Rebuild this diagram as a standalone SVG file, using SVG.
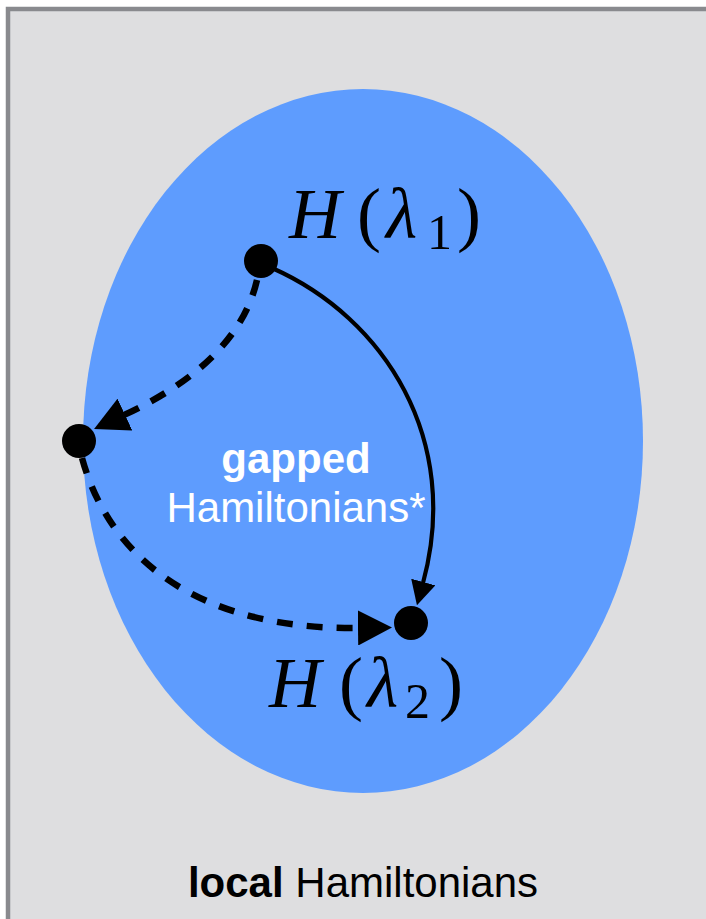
<svg xmlns="http://www.w3.org/2000/svg" width="706" height="919" viewBox="0 0 706 919">
<style>
.math{font-family:"Liberation Serif","DejaVu Serif",serif;fill:#000}
.it{font-style:italic}
.lbl{font-family:"Liberation Sans",Arial,sans-serif;font-size:42px}
.b{font-weight:bold}
.dash{fill:none;stroke:#000;stroke-width:6.5;stroke-dasharray:16 14}
.solid{fill:none;stroke:#000;stroke-width:4.2}
.dot{fill:#000}
</style>
<defs>
<marker id="ah" viewBox="0 0 24 25" refX="1" refY="12.5" markerWidth="24" markerHeight="25" markerUnits="userSpaceOnUse" orient="auto">
<path d="M0,0 L24,12.5 L0,25 z" fill="#000"/>
</marker>
<marker id="ahd" viewBox="0 0 34 35" refX="1" refY="17.5" markerWidth="34" markerHeight="35" markerUnits="userSpaceOnUse" orient="auto">
<path d="M0,0 L34,17.5 L0,35 z" fill="#000"/>
</marker>
</defs>
<rect x="0" y="0" width="706" height="919" fill="#ffffff"/>
<g id="frame">
<rect x="8" y="9" width="800" height="1000" fill="#dedee0" stroke="#898a8e" stroke-width="4.5"/>
</g>
<g id="gapped-region">
<ellipse cx="363" cy="441" rx="280" ry="352" fill="#5e9cfe"/>
<text class="lbl b" x="296" y="473" text-anchor="middle" fill="#ffffff">gapped</text>
<text class="lbl" x="296" y="522" text-anchor="middle" fill="#ffffff">Hamiltonians*</text>
</g>
<g id="connectors">
<path class="solid" d="M272 268 C385 318, 462 440, 423 583" marker-end="url(#ah)"/>
<path class="dash" d="M257 280 Q238 362 124 415" marker-end="url(#ahd)"/>
<path class="dash" d="M82 458 C110 560, 200 630, 359 628" marker-end="url(#ahd)"/>
</g>
<g id="node-h1">
<circle class="dot" cx="261" cy="261" r="17"/>
<text class="math it" x="289" y="238" font-size="72">H</text>
<text class="math" x="357" y="238" font-size="72">(</text>
<text class="math it" x="386" y="238" font-size="72">λ</text>
<text class="math" x="427" y="249" font-size="50">1</text>
<text class="math" x="457" y="238" font-size="72">)</text>
</g>
<g id="node-mid">
<circle class="dot" cx="79" cy="441" r="17"/>
</g>
<g id="node-h2">
<circle class="dot" cx="411" cy="623" r="17"/>
<text class="math it" x="269" y="707" font-size="72">H</text>
<text class="math" x="339" y="707" font-size="72">(</text>
<text class="math it" x="367" y="707" font-size="72">λ</text>
<text class="math" x="405" y="718" font-size="50">2</text>
<text class="math" x="439" y="707" font-size="72">)</text>
</g>
<g id="outer-label">
<text class="lbl" x="363" y="897" text-anchor="middle" font-size="43.5"><tspan class="b">local</tspan> Hamiltonians</text>
</g>
</svg>
